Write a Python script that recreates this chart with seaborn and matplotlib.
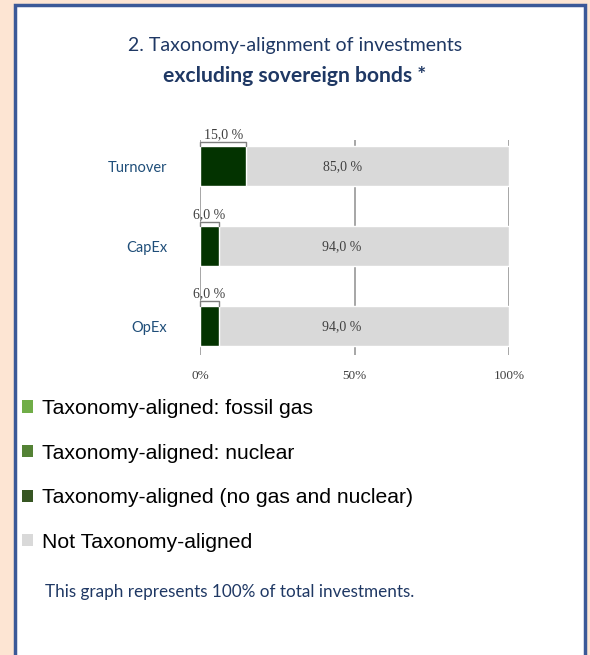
import matplotlib
matplotlib.use("Agg")
import matplotlib.pyplot as plt
import seaborn as sns
import pandas as pd
from matplotlib.patches import Patch, Rectangle

# =========================
# DADOS
# =========================
categories = ["Turnover", "CapEx", "OpEx"]
aligned = [15.0, 6.0, 6.0]
not_aligned = [85.0, 94.0, 94.0]
x_ticks = [0, 50, 100]
x_tick_labels = ["0%", "50%", "100%"]
legend_labels = [
    "Taxonomy-aligned: fossil gas",
    "Taxonomy-aligned: nuclear",
    "Taxonomy-aligned (no gas and nuclear)",
    "Not Taxonomy-aligned",
]
legend_colors = ["#70ad47", "#548235", "#375623", "#d9d9d9"]

BAR_GREEN = "#033300"
BAR_GREY = "#d9d9d9"
NAVY = "#1f3864"
PEACH = "#fde5d3"

df = pd.DataFrame({"cat": categories, "aligned": aligned, "not_aligned": not_aligned})
df["total"] = df["aligned"] + df["not_aligned"]

sns.set_style("white")
fig = plt.figure(figsize=(5.9, 6.55), dpi=100)
fig.patch.set_facecolor(PEACH)

# caixa branca com borda azul (atrás de tudo)
fig.patches.append(Rectangle((14.5 / 590, -0.05), 570 / 590, 1.05 - 5.5 / 655,
                             transform=fig.transFigure, facecolor="white",
                             edgecolor="#3b5998", linewidth=2.5, zorder=-5))

fig.text(0.5, 1 - 45 / 655, "2. Taxonomy-alignment of investments", ha="center", va="center",
         fontsize=14, color=NAVY, family="Lato")
fig.text(0.5, 1 - 76 / 655, "excluding sovereign bonds *", ha="center", va="center",
         fontsize=15.2, color=NAVY, family="Lato", weight="bold")

ax = fig.add_axes([200 / 590, 1 - 355 / 655, 309 / 590, 215 / 655])
ax.set_facecolor("none")

for x in x_ticks:
    ax.axvline(x, color="#a6a6a6", lw=1.4, zorder=0)

sns.barplot(data=df, x="total", y="cat", orient="h", color=BAR_GREY, width=0.5,
            saturation=1, ax=ax, zorder=2)
sns.barplot(data=df, x="aligned", y="cat", orient="h", color=BAR_GREEN, width=0.5,
            saturation=1, ax=ax, zorder=3)

for i, row in df.iterrows():
    top = i - 0.25
    ax.plot([0, 0, row["aligned"], row["aligned"]], [top, top - 0.06, top - 0.06, top],
            color="#7f7f7f", lw=1, zorder=4, clip_on=False)
    ax.text(row["aligned"] / 2, top - 0.07, f"{row['aligned']:.1f} %".replace(".", ","),
            ha="center", va="bottom", fontsize=10, color="#404040", family="Liberation Serif")
    ax.text(46, i, f"{row['not_aligned']:.1f} %".replace(".", ","),
            ha="center", va="center", fontsize=10, color="#404040", family="Liberation Serif")

ax.set_xlim(0, 100)
ax.set_ylim(2.36, -0.33)
ax.set_xticks(x_ticks)
ax.set_xticklabels(x_tick_labels, family="Liberation Serif", fontsize=9.5, color="#404040")
ax.tick_params(axis="x", length=0, pad=11)
ax.tick_params(axis="y", length=0, pad=23.5)
for lbl in ax.get_yticklabels():
    lbl.set_family("Lato")
    lbl.set_fontsize(10.5)
    lbl.set_color("#1f4e79")
ax.set_xlabel("")
ax.set_ylabel("")
for s in ax.spines.values():
    s.set_visible(False)

handles = [Patch(facecolor=c, edgecolor="none") for c in legend_colors]
fig.legend(handles, legend_labels, loc="upper left", bbox_to_anchor=(3 / 590, 1 - 380 / 655),
           frameon=False, prop={"family": "Liberation Sans", "size": 15.2},
           handlelength=0.5, handleheight=0.5, handletextpad=0.45, labelspacing=1.21,
           labelcolor="black")

fig.text(45 / 590, 1 - 592 / 655, "This graph represents 100% of total investments.",
         ha="left", va="center", fontsize=12.3, color=NAVY, family="Lato")

plt.savefig("out.png", dpi=100, facecolor=fig.get_facecolor())
plt.close()
